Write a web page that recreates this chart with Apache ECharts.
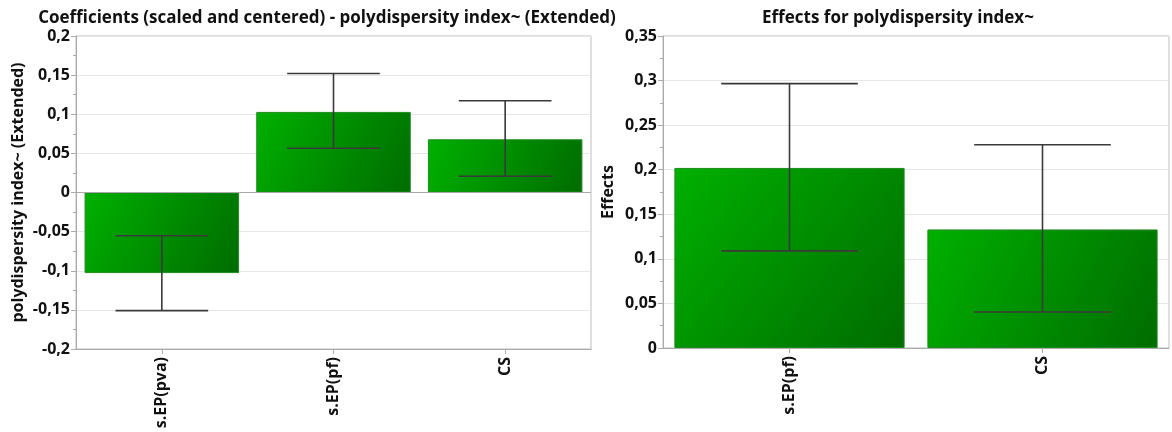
<!DOCTYPE html>
<html>
<head>
<meta charset="utf-8">
<script src="https://cdn.jsdelivr.net/npm/echarts@6/dist/echarts.min.js"></script>
<style>
html,body{margin:0;padding:0;background:#fff;}
#c{width:1172px;height:432px;}
</style>
</head>
<body>
<div id="c"></div>
<script>
// ---- data ----
var coefCategories = ['s.EP(pva)', 's.EP(pf)', 'CS'];
var coefValues = [-0.103, 0.103, 0.068];
var coefErrLow = [-0.151, 0.0565, 0.0207];
var coefErrHigh = [-0.0552, 0.152, 0.1173];

var effectCategories = ['s.EP(pf)', 'CS'];
var effectValues = [0.202, 0.133];
var effectErrLow = [0.109, 0.0404];
var effectErrHigh = [0.2966, 0.228];

var leftTitle = 'Coefficients (scaled and centered) - polydispersity index~ (Extended)';
var rightTitle = 'Effects for polydispersity index~';
var leftYName = 'polydispersity index~ (Extended)';
var rightYName = 'Effects';

// ---- chart ----
var FONT = '"Open Sans", "DejaVu Sans", sans-serif';
var chart = echarts.init(document.getElementById('c'), null, {renderer: 'canvas'});

function barGradient() {
  return new echarts.graphic.LinearGradient(0, 0, 1, 1, [
    {offset: 0, color: '#00b000'},
    {offset: 1, color: '#006c00'}
  ]);
}

function errorData(lo, hi) {
  return lo.map(function (l, i) { return [i, l, hi[i]]; });
}

function errorRender(params, api) {
  var i = api.value(0);
  var lo = api.coord([i, api.value(1)]);
  var hi = api.coord([i, api.value(2)]);
  var band = api.size([1, 0])[0];
  var half = band * 0.9 * 0.3;
  var style = {stroke: '#3a3a3a', lineWidth: 1.6};
  return {
    type: 'group',
    children: [
      {type: 'line', shape: {x1: hi[0], y1: hi[1], x2: lo[0], y2: lo[1]}, style: style},
      {type: 'line', shape: {x1: hi[0] - half, y1: hi[1], x2: hi[0] + half, y2: hi[1]}, style: style},
      {type: 'line', shape: {x1: lo[0] - half, y1: lo[1], x2: lo[0] + half, y2: lo[1]}, style: style}
    ]
  };
}

function commaFmt(v) {
  return String(Math.round(v * 1000) / 1000).replace('.', ',');
}

var axisLabelStyle = {color: '#111', fontWeight: 'bold', fontSize: 16, fontFamily: FONT};

function yAxisCfg(min, max, interval, name, gap) {
  return {
    type: 'value', min: min, max: max, interval: interval,
    name: name, nameLocation: 'middle', nameRotate: 90,
    nameGap: gap,
    nameTextStyle: {color: '#111', fontWeight: 'bold', fontSize: 16, fontFamily: FONT},
    axisLine: {show: true, lineStyle: {color: '#aaaaaa'}},
    axisTick: {show: true, length: 5, lineStyle: {color: '#aaaaaa'}},
    minorTick: {show: true, splitNumber: 2, length: 3, lineStyle: {color: '#aaaaaa'}},
    splitLine: {show: true, lineStyle: {color: '#e6e6e6'}},
    axisLabel: Object.assign({formatter: commaFmt, margin: 6}, axisLabelStyle)
  };
}

function xAxisCfg(cats) {
  return {
    type: 'category', data: cats,
    axisLine: {show: true, onZero: false, lineStyle: {color: '#aaaaaa'}},
    axisTick: {show: true, alignWithLabel: true, length: 5, lineStyle: {color: '#aaaaaa'}},
    axisLabel: Object.assign({rotate: 90, margin: 8, interval: 0}, axisLabelStyle)
  };
}

var option = {
  backgroundColor: '#ffffff',
  animation: false,
  title: [
    {text: leftTitle, left: 322, top: 5, textAlign: 'center',
     textStyle: {color: '#111', fontWeight: 'bold', fontSize: 17, fontFamily: FONT}},
    {text: rightTitle, left: 893, top: 5, textAlign: 'center',
     textStyle: {color: '#111', fontWeight: 'bold', fontSize: 17, fontFamily: FONT}}
  ],
  grid: [
    {left: 76, top: 36, width: 515, height: 313, show: true, borderColor: '#bdbdbd', borderWidth: 1, backgroundColor: 'transparent'},
    {left: 663, top: 36, width: 506, height: 312, show: true, borderColor: '#bdbdbd', borderWidth: 1, backgroundColor: 'transparent'}
  ],
  xAxis: [
    Object.assign({gridIndex: 0}, xAxisCfg(coefCategories)),
    Object.assign({gridIndex: 1}, xAxisCfg(effectCategories))
  ],
  yAxis: [
    Object.assign({gridIndex: 0}, yAxisCfg(-0.2, 0.2, 0.05, leftYName, 50)),
    Object.assign({gridIndex: 1}, yAxisCfg(0, 0.35, 0.05, rightYName, 47))
  ],
  series: [
    {
      type: 'bar', xAxisIndex: 0, yAxisIndex: 0, data: coefValues,
      barCategoryGap: '10%',
      itemStyle: {color: barGradient(), borderColor: '#1f8a1f', borderWidth: 1},
      markLine: {silent: true, symbol: 'none', label: {show: false},
        lineStyle: {color: '#aaaaaa', type: 'solid', width: 1},
        data: [{yAxis: 0}]},
      z: 2
    },
    {
      type: 'custom', xAxisIndex: 0, yAxisIndex: 0,
      data: errorData(coefErrLow, coefErrHigh),
      encode: {x: 0, y: [1, 2]},
      renderItem: errorRender, z: 5
    },
    {
      type: 'bar', xAxisIndex: 1, yAxisIndex: 1, data: effectValues,
      barCategoryGap: '9%',
      itemStyle: {color: barGradient(), borderColor: '#1f8a1f', borderWidth: 1},
      z: 2
    },
    {
      type: 'custom', xAxisIndex: 1, yAxisIndex: 1,
      data: errorData(effectErrLow, effectErrHigh),
      encode: {x: 0, y: [1, 2]},
      renderItem: errorRender, z: 5
    }
  ]
};
chart.setOption(option);
</script>
</body>
</html>
